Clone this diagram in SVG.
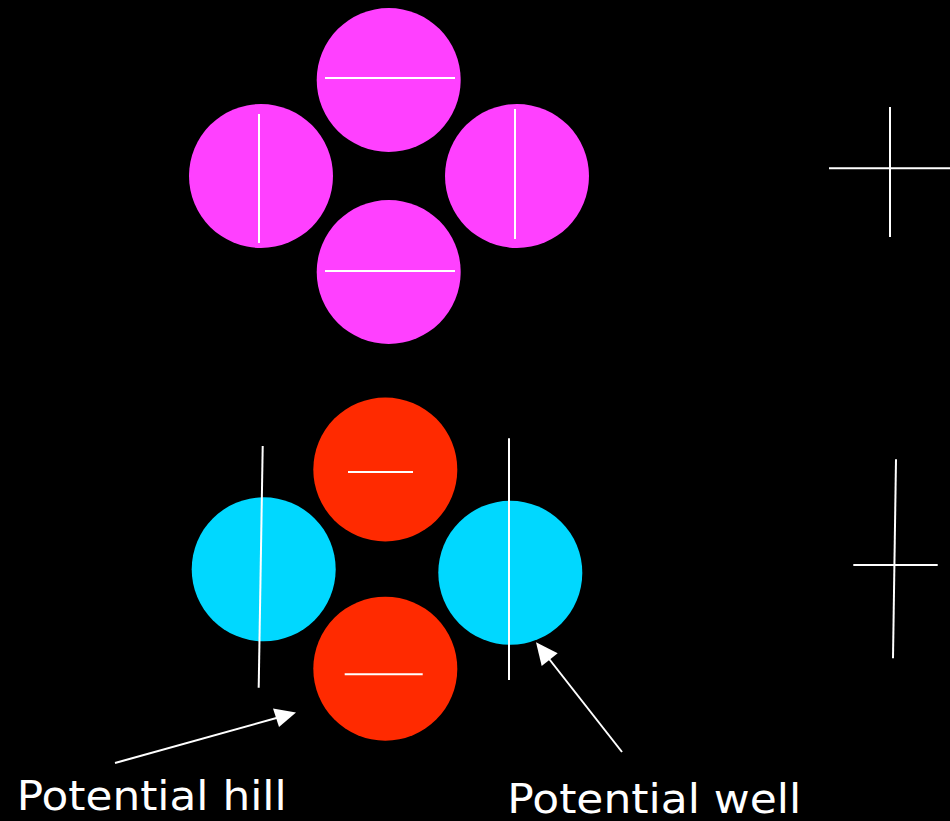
<svg xmlns="http://www.w3.org/2000/svg" width="950" height="821" viewBox="0 0 950 821">
<style>
.mag{fill:#ff40ff}
.red{fill:#ff2a00}
.cyan{fill:#00d8ff}
.ln{stroke:#ffffff;stroke-width:2;fill:none}
.lbl{font-family:"DejaVu Sans","Liberation Sans",sans-serif;font-size:41px;fill:#ffffff}
</style>
<defs>
<marker id="ah" markerWidth="10" markerHeight="10" refX="9" refY="5" orient="auto" markerUnits="userSpaceOnUse" viewBox="0 0 10 10">
</marker>
</defs>
<rect width="950" height="821" fill="#000000"/>
<g id="top-group">
<g id="mag-top"><circle class="mag" cx="388.7" cy="80" r="72"/><line class="ln" x1="325" y1="78" x2="455" y2="78"/></g>
<g id="mag-left"><circle class="mag" cx="261" cy="176" r="72"/><line class="ln" x1="259" y1="114" x2="259" y2="243"/></g>
<g id="mag-right"><circle class="mag" cx="517" cy="176" r="72"/><line class="ln" x1="515" y1="109" x2="515" y2="239"/></g>
<g id="mag-bottom"><circle class="mag" cx="388.7" cy="272" r="72"/><line class="ln" x1="325" y1="271" x2="455" y2="271"/></g>
</g>
<g id="cross-top"><line class="ln" x1="890" y1="107" x2="890" y2="237"/><line class="ln" x1="829" y1="168.3" x2="950" y2="168.3"/></g>
<g id="bottom-group">
<g id="red-top"><circle class="red" cx="385.3" cy="469.5" r="72"/><line class="ln" x1="348" y1="472" x2="413" y2="472"/></g>
<g id="red-bottom"><circle class="red" cx="385.3" cy="668.7" r="72"/><line class="ln" x1="344.7" y1="674.3" x2="422.7" y2="674.3"/></g>
<g id="cyan-left"><circle class="cyan" cx="263.7" cy="569.3" r="72"/><line class="ln" x1="262.7" y1="446" x2="258.7" y2="687.7"/></g>
<g id="cyan-right"><circle class="cyan" cx="510.3" cy="572.8" r="72"/><line class="ln" x1="509" y1="438.3" x2="509" y2="680"/></g>
</g>
<g id="cross-bottom"><line class="ln" x1="896" y1="459.3" x2="893" y2="658.3"/><line class="ln" x1="853.3" y1="565" x2="937.7" y2="565"/></g>
<g id="connectors">
<line class="ln" x1="115" y1="763" x2="280" y2="717"/>
<polygon fill="#ffffff" points="296,712.5 273,708.5 279,727"/>
<line class="ln" x1="622" y1="752" x2="546" y2="655"/>
<polygon fill="#ffffff" points="536,642.3 557.7,653.3 541.7,666"/>
</g>
<g id="labels">
<text class="lbl" x="16.7" y="810" textLength="270" lengthAdjust="spacingAndGlyphs">Potential hill</text>
<text class="lbl" x="507.3" y="812.7" textLength="294" lengthAdjust="spacingAndGlyphs">Potential well</text>
</g>
</svg>
